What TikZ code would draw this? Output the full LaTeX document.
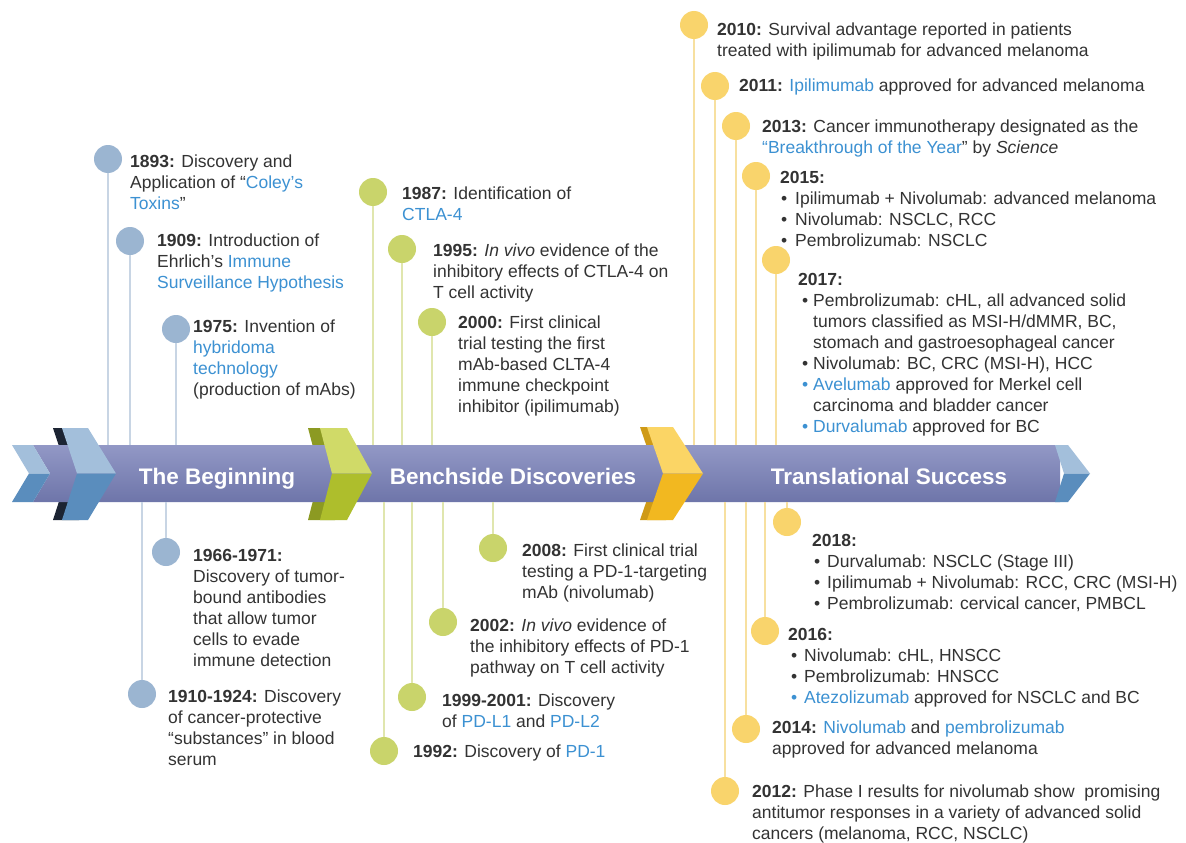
\documentclass[tikz,border=0pt]{standalone}
\usepackage{fontspec}
\setmainfont{Liberation Sans}
\definecolor{txt}{HTML}{333333}
\definecolor{link}{RGB}{60,145,210}
\definecolor{cblue}{HTML}{9BB5D1}
\definecolor{lblue}{HTML}{C8D5E4}
\definecolor{cgreen}{HTML}{C9D46B}
\definecolor{lgreen}{HTML}{E0E6AE}
\definecolor{cyel}{HTML}{F9D46C}
\definecolor{lyel}{HTML}{F7E0A0}
\definecolor{bandTop}{HTML}{9298C6}
\definecolor{bandBot}{HTML}{6E75A9}
\definecolor{blueL}{HTML}{A3BFDB}
\definecolor{blueD}{HTML}{5A8DBD}
\definecolor{navy}{HTML}{1C2433}
\definecolor{greenL}{HTML}{D0DA68}
\definecolor{greenD}{HTML}{AEBE2C}
\definecolor{greenF}{HTML}{8C9A22}
\definecolor{yelL}{HTML}{FBD565}
\definecolor{yelD}{HTML}{F2B820}
\definecolor{yelF}{HTML}{CF9A16}
\newcommand\lk[1]{\textcolor{link}{#1}}
\newcommand\yr[1]{\textbf{#1}}
\begin{document}
\begin{tikzpicture}[x=1pt,y=-1pt,
  ev/.style={anchor=base west,inner sep=0pt,align=left,text=txt,
    font=\fontsize{17.5}{21}\selectfont},
  bandlbl/.style={anchor=base,inner sep=0pt,text=white,
    font=\fontsize{22.5}{26}\selectfont\bfseries},
  dotB/.style={circle,fill=cblue,minimum size=28pt,inner sep=0pt},
  dotG/.style={circle,fill=cgreen,minimum size=28pt,inner sep=0pt},
  dotY/.style={circle,fill=cyel,minimum size=28pt,inner sep=0pt},
  lnB/.style={draw=lblue,line width=2.5pt},
  lnG/.style={draw=lgreen,line width=2.5pt},
  lnY/.style={draw=lyel,line width=2.5pt}]
\useasboundingbox (0,0) rectangle (1186,843);
\fill[white] (0,0) rectangle (1186,843);
\coordinate (bandT) at (0,445);
\coordinate (bandB) at (0,502);
% folds behind band
\fill[navy] (53,428) -- (79,428) -- (107,473.5) -- (79,520) -- (53,520) -- (68,473.5) -- cycle;
\fill[greenF] (308,428) -- (335,428) -- (360,473.5) -- (335,520) -- (308,520) -- (320,473.5) -- cycle;
\fill[yelF] (640,427) -- (666,427) -- (696,473.5) -- (666,520) -- (640,520) -- (656,473.5) -- cycle;
% band
\shade[top color=bandTop,bottom color=bandBot] (33,445) -- (1060,445) -- (1060,502) -- (33,502) -- (50,473.5) -- cycle;
% tail
\fill[blueL] (12,445) -- (33,445) -- (50,473.5) -- (29,473.5) -- cycle;
\fill[blueD] (29,473.5) -- (50,473.5) -- (33,502) -- (12,502) -- cycle;
% chevrons
\fill[blueL] (62,428) -- (88,428) -- (116,473.5) -- (77,473.5) -- cycle;
\fill[blueD] (77,473.5) -- (116,473.5) -- (88,520) -- (62,520) -- cycle;
\fill[greenL] (320,428) -- (347,428) -- (372,473.5) -- (332,473.5) -- cycle;
\fill[greenD] (332,473.5) -- (372,473.5) -- (347,520) -- (320,520) -- cycle;
\fill[yelL] (647,427) -- (673,427) -- (703,473.5) -- (663,473.5) -- cycle;
\fill[yelD] (663,473.5) -- (703,473.5) -- (673,520) -- (647,520) -- cycle;
% right end
\fill[blueL] (1055,445) -- (1068,445) -- (1090,473.5) -- (1064,473.5) -- cycle;
\fill[blueD] (1064,473.5) -- (1090,473.5) -- (1068,502) -- (1055,502) -- cycle;
% band labels
\node[bandlbl] (lab1) at (217,484) {The Beginning};
\node[bandlbl] (lab2) at (513,484) {Benchside Discoveries};
\node[bandlbl] (lab3) at (889,484) {Translational Success};
% circles
\node[dotB] (b1893) at (108,159) {};
\node[dotB] (b1909) at (130,241) {};
\node[dotB] (b1975) at (176,329) {};
\node[dotB] (b1966) at (166,552) {};
\node[dotB] (b1910) at (142,694) {};
\node[dotG] (g1987) at (373,192) {};
\node[dotG] (g1995) at (402,249) {};
\node[dotG] (g2000) at (432,322) {};
\node[dotG] (g2008) at (493,548) {};
\node[dotG] (g2002) at (443,622) {};
\node[dotG] (g1999) at (412,697) {};
\node[dotG] (g1992) at (384,751) {};
\node[dotY] (y2010) at (694,25) {};
\node[dotY] (y2011) at (715,86) {};
\node[dotY] (y2013) at (736,126) {};
\node[dotY] (y2015) at (756,176) {};
\node[dotY] (y2017) at (776,260) {};
\node[dotY] (y2018) at (787,522) {};
\node[dotY] (y2016) at (765,631) {};
\node[dotY] (y2014) at (746,729) {};
\node[dotY] (y2012) at (725,791) {};
% connectors
\foreach \n in {b1893,b1909,b1975} \draw[lnB] (\n) -- (\n |- bandT);
\foreach \n in {b1966,b1910} \draw[lnB] (\n) -- (\n |- bandB);
\foreach \n in {g1987,g1995,g2000} \draw[lnG] (\n) -- (\n |- bandT);
\foreach \n in {g2008,g2002,g1999,g1992} \draw[lnG] (\n) -- (\n |- bandB);
\foreach \n in {y2010,y2011,y2013,y2015,y2017} \draw[lnY] (\n) -- (\n |- bandT);
\foreach \n in {y2018,y2016,y2014,y2012} \draw[lnY] (\n) -- (\n |- bandB);
% texts (anchored at the baseline of the last line)
\node[ev] (t1893) at (130,209) {\yr{1893:} Discovery and\\Application of “\lk{Coley’s}\\\lk{Toxins}”};
\node[ev] (t1909) at (157,288) {\yr{1909:} Introduction of\\Ehrlich’s \lk{Immune}\\\lk{Surveillance Hypothesis}};
\node[ev] (t1975) at (193,395) {\yr{1975:} Invention of\\\lk{hybridoma}\\\lk{technology}\\(production of mAbs)};
\node[ev] (t1966) at (193,666) {\yr{1966-1971:}\\Discovery of tumor-\\bound antibodies\\that allow tumor\\cells to evade\\immune detection};
\node[ev] (t1910) at (168,765) {\yr{1910-1924:} Discovery\\of cancer-protective\\“substances” in blood\\serum};
\node[ev] (t1987) at (402,220) {\yr{1987:} Identification of\\\lk{CTLA-4}};
\node[ev] (t1995) at (433,298) {\yr{1995:} \textit{In vivo} evidence of the\\inhibitory effects of CTLA-4 on\\T cell activity};
\node[ev] (t2000) at (458,412) {\yr{2000:} First clinical\\trial testing the first\\mAb-based CLTA-4\\immune checkpoint\\inhibitor (ipilimumab)};
\node[ev] (t2008) at (522,598) {\yr{2008:} First clinical trial\\testing a PD-1-targeting\\mAb (nivolumab)};
\node[ev] (t2002) at (470,673) {\yr{2002:} \textit{In vivo} evidence of\\the inhibitory effects of PD-1\\pathway on T cell activity};
\node[ev] (t1999) at (442,727) {\yr{1999-2001:} Discovery\\of \lk{PD-L1} and \lk{PD-L2}};
\node[ev] (t1992) at (413,757) {\yr{1992:} Discovery of \lk{PD-1}};
\node[ev] (t2010) at (717,57) {\yr{2010:} Survival advantage reported in patients\\treated with ipilimumab for advanced melanoma};
\node[ev] (t2011) at (739,92) {\yr{2011:} \lk{Ipilimumab} approved for advanced melanoma};
\node[ev] (t2013) at (762,153) {\yr{2013:} Cancer immunotherapy designated as the\\\lk{“Breakthrough of the Year}” by \textit{Science}};
\node[ev] (t2015) at (780,246) {\yr{2015:}\\
  \hspace*{1pt}\makebox[14pt][l]{•}Ipilimumab + Nivolumab: advanced melanoma\\
  \hspace*{1pt}\makebox[14pt][l]{•}Nivolumab: NSCLC, RCC\\
  \hspace*{1pt}\makebox[14pt][l]{•}Pembrolizumab: NSCLC};
\node[ev] (t2017) at (798,432) {\yr{2017:}\\
  \hspace*{4pt}\makebox[11pt][l]{•}Pembrolizumab: cHL, all advanced solid\\
  \hspace*{15pt}tumors classified as MSI-H/dMMR, BC,\\
  \hspace*{15pt}stomach and gastroesophageal cancer\\
  \hspace*{4pt}\makebox[11pt][l]{•}Nivolumab: BC, CRC (MSI-H), HCC\\
  \hspace*{4pt}\makebox[11pt][l]{\lk{•}}\lk{Avelumab} approved for Merkel cell\\
  \hspace*{15pt}carcinoma and bladder cancer\\
  \hspace*{4pt}\makebox[11pt][l]{\lk{•}}\lk{Durvalumab} approved for BC};
\node[ev] (t2018) at (812,609) {\yr{2018:}\\
  \hspace*{2pt}\makebox[13pt][l]{•}Durvalumab: NSCLC (Stage III)\\
  \hspace*{2pt}\makebox[13pt][l]{•}Ipilimumab + Nivolumab: RCC, CRC (MSI-H)\\
  \hspace*{2pt}\makebox[13pt][l]{•}Pembrolizumab: cervical cancer, PMBCL};
\node[ev] (t2016) at (788,703) {\yr{2016:}\\
  \hspace*{3pt}\makebox[13pt][l]{•}Nivolumab: cHL, HNSCC\\
  \hspace*{3pt}\makebox[13pt][l]{•}Pembrolizumab: HNSCC\\
  \hspace*{3pt}\makebox[13pt][l]{\lk{•}}\lk{Atezolizumab} approved for NSCLC and BC};
\node[ev] (t2014) at (772,754) {\yr{2014:} \lk{Nivolumab} and \lk{pembrolizumab}\\approved for advanced melanoma};
\node[ev] (t2012) at (752,839) {\yr{2012:} Phase I results for nivolumab show\ \ promising\\antitumor responses in a variety of advanced solid\\cancers (melanoma, RCC, NSCLC)};
\end{tikzpicture}
\end{document}
